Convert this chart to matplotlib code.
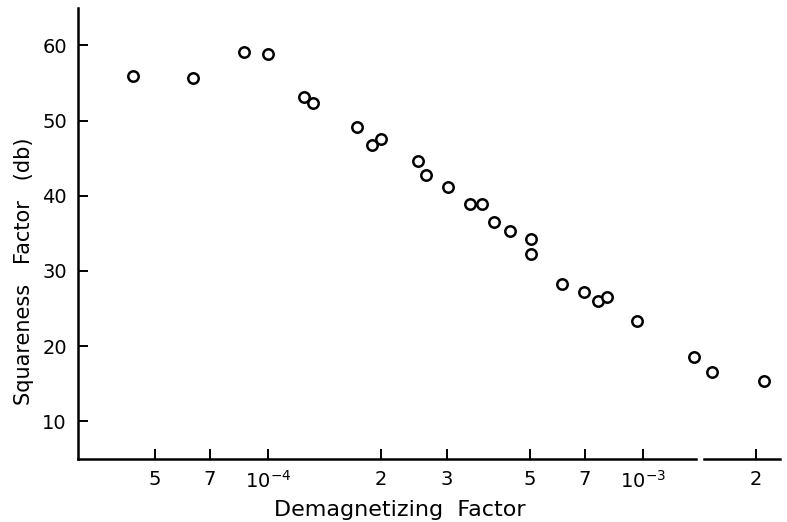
import matplotlib.pyplot as plt
import numpy as np

plt.rcParams['font.family'] = ['DejaVu Sans']
plt.rcParams['mathtext.default'] = 'regular'

# demagnetizing factor vs squareness factor (db)
demag = [4.38e-5, 6.32e-5, 8.64e-5, 1.00e-4, 1.25e-4, 1.32e-4, 1.73e-4, 1.90e-4,
         2.01e-4, 2.52e-4, 2.65e-4, 3.03e-4, 3.47e-4, 3.73e-4, 4.02e-4, 4.43e-4,
         5.04e-4, 5.04e-4, 6.09e-4, 6.97e-4, 7.59e-4, 8.02e-4, 9.64e-4, 1.37e-3,
         1.53e-3, 2.10e-3]
squareness = [55.9, 55.6, 59.1, 58.8, 53.2, 52.4, 49.2, 46.8,
              47.6, 44.6, 42.7, 41.2, 38.9, 38.9, 36.5, 35.3,
              34.3, 32.3, 28.2, 27.2, 26.0, 26.5, 23.3, 18.5,
              16.6, 15.3]

xticks = [5e-5, 7e-5, 1e-4, 2e-4, 3e-4, 5e-4, 7e-4, 1e-3, 2e-3]
xticklabels = ['5', '7', r'$10^{-4}$', '2', '3', '5', '7', r'$10^{-3}$', '2']
yticks = [10, 20, 30, 40, 50, 60]

fig = plt.figure(figsize=(7.87, 5.22), dpi=100)
ax = fig.add_axes([0.099, 0.121, 0.892, 0.864])

ax.plot(demag, squareness, 'o', mfc='white', mec='black', ms=7.5, mew=1.8, ls='none')

ax.set_xscale('log')
xmin, xmax = 3.12e-5, 2.32e-3
ymin, ymax = 5, 65
ax.set_xlim(xmin, xmax)
ax.set_ylim(ymin, ymax)

ax.set_xticks(xticks)
ax.set_xticklabels(xticklabels)
ax.xaxis.set_minor_locator(plt.NullLocator())
ax.set_yticks(yticks)

ax.tick_params(axis='both', direction='in', length=7, width=1.4, labelsize=14, pad=8)

for s in ['top', 'right', 'bottom']:
    ax.spines[s].set_visible(False)
ax.spines['left'].set_linewidth(1.8)

# bottom axis drawn in two pieces with a small break
ax.plot([xmin, 1.39e-3], [ymin, ymin], color='black', lw=1.8, clip_on=False)
ax.plot([1.46e-3, xmax], [ymin, ymin], color='black', lw=1.8, clip_on=False)

ax.set_xlabel('Demagnetizing  Factor', fontsize=16)
ax.xaxis.set_label_coords(0.459, -0.092)
ax.set_ylabel('Squareness   Factor   (db)', fontsize=15)
ax.yaxis.set_label_coords(-0.062, 0.415)

fig.savefig('out.png', dpi=100)
